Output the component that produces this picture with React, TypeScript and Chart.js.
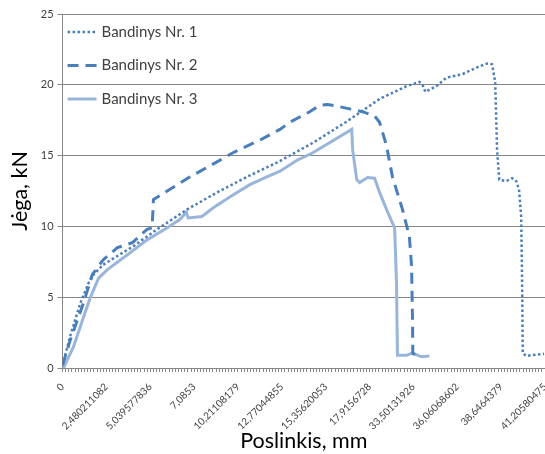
import React, { useEffect, useRef } from "react";
import { Chart, registerables } from "chart.js";

Chart.register(...registerables);

// Category tick labels (Poslinkis, mm), shown every `labelEvery` categories
const xLabels = [
  "0", "2,480211082", "5,039577836", "7,0853", "10,21108179", "12,77044855",
  "15,35620053", "17,9156728", "33,50131926", "36,06068602", "38,6464379", "41,20580475",
];
const labelEvery = 14;
const lastCategory = 154;

const yTicks = [0, 5, 10, 15, 20, 25];

// Series positions are category indices, values are force in kN
const s1Name = "Bandinys Nr. 1";
const s1Pos = [0, 2.5, 5.7, 8.3, 9.9, 13, 22.6, 30.2, 39.8, 49.3, 59.8, 68.4, 79.9, 90.7, 101.2, 109.8, 113.9, 114.9, 115.8, 119.3, 122.5, 127.6, 133, 135.5, 137.1, 138.1, 138.7, 139.4, 141.6, 143.5, 144.8, 145.7, 146.4, 146.7, 146.9, 148, 149.9, 153.7];
const s1Force = [0.2, 2.3, 4.6, 6.0, 6.6, 7.3, 8.6, 9.8, 11.2, 12.4, 13.6, 14.5, 15.9, 17.4, 19.0, 19.9, 20.2, 20.0, 19.5, 19.9, 20.5, 20.75, 21.3, 21.5, 21.45, 20.2, 15.4, 13.3, 13.2, 13.4, 13.2, 12.6, 10.7, 6.0, 1.05, 0.85, 0.92, 1.0];

const s2Name = "Bandinys Nr. 2";
const s2Pos = [0, 2.5, 6.7, 9.5, 13, 17.5, 22.3, 27, 28.6, 29, 33.4, 40.7, 48, 54.4, 63, 69.4, 72.5, 78.9, 82.1, 84.6, 87.5, 91.6, 95.8, 99.6, 101.2, 103.4, 105.3, 108.5, 110.7, 111.4, 111.7, 111.8, 113];
const s2Force = [0.2, 2.0, 4.6, 6.6, 7.65, 8.5, 8.85, 9.8, 9.9, 11.9, 12.5, 13.5, 14.4, 15.2, 16.1, 16.85, 17.35, 18.1, 18.55, 18.6, 18.5, 18.3, 18.1, 17.8, 17.35, 15.7, 13.5, 11.2, 9.3, 7.2, 3.6, 1.05, 0.85];

const s3Name = "Bandinys Nr. 3";
const s3Pos = [0.3, 3.5, 6.7, 8.9, 11.5, 14.3, 20.7, 27, 33.4, 37.5, 39.5, 40.1, 44.5, 48, 53.5, 59.8, 65.2, 69.4, 75.1, 79.9, 92.3, 92.6, 93.9, 94.8, 97.4, 99.6, 101.2, 103.4, 106, 106.6, 106.9, 109.8, 111.7, 114.5, 117.1];
const s3Force = [0, 1.5, 3.6, 5.0, 6.35, 6.95, 8.0, 9.05, 9.9, 10.5, 11.0, 10.6, 10.7, 11.3, 12.1, 12.95, 13.5, 13.9, 14.7, 15.2, 16.85, 15.4, 13.3, 13.1, 13.45, 13.4, 12.4, 11.2, 9.9, 6.0, 0.9, 0.9, 1.05, 0.8, 0.85];

const FONT = "Lato";
const TEXT = "#404040";
const GRID = "#868686";

const toPoints = (pos: number[], vals: number[]) => pos.map((x, i) => ({ x, y: vals[i] }));

const insideLegend = {
  id: "insideLegend",
  afterDraw(chart: any) {
    const ctx = chart.ctx;
    const { left, top } = chart.chartArea;
    chart.data.datasets.forEach((ds: any, i: number) => {
      const y = top + 18 + i * 33.5;
      ctx.save();
      ctx.strokeStyle = ds.borderColor;
      ctx.lineWidth = ds.borderWidth;
      ctx.setLineDash(ds.borderDash || []);
      ctx.beginPath();
      ctx.moveTo(left + 5, y);
      ctx.lineTo(left + 34, y);
      ctx.stroke();
      ctx.setLineDash([]);
      ctx.fillStyle = TEXT;
      ctx.font = `15px ${FONT}`;
      ctx.textBaseline = "middle";
      ctx.fillText(ds.label, left + 39, y);
      ctx.restore();
    });
  },
};

export default function App() {
  const ref = useRef<HTMLCanvasElement>(null);
  useEffect(() => {
    if (!ref.current) return;
    const chart = new Chart(ref.current, {
      type: "line",
      data: {
        datasets: [
          {
            label: s1Name,
            data: toPoints(s1Pos, s1Force),
            borderColor: "#4A7EBB",
            borderWidth: 2.5,
            borderDash: [2.5, 2.5],
            pointRadius: 0,
            tension: 0,
          },
          {
            label: s2Name,
            data: toPoints(s2Pos, s2Force),
            borderColor: "#4A7EBB",
            borderWidth: 3,
            borderDash: [11, 7],
            pointRadius: 0,
            tension: 0,
          },
          {
            label: s3Name,
            data: toPoints(s3Pos, s3Force),
            borderColor: "#9AB5DA",
            borderWidth: 3,
            pointRadius: 0,
            tension: 0,
          },
        ] as any,
      },
      options: {
        animation: false,
        responsive: false,
        maintainAspectRatio: false,
        layout: { padding: { top: 14, left: 7, right: 0, bottom: 0 } },
        plugins: { legend: { display: false }, tooltip: { enabled: false } },
        scales: {
          x: {
            type: "linear",
            min: 0,
            max: lastCategory,
            border: { color: GRID, width: 1 },
            grid: { drawOnChartArea: false, drawTicks: true, tickLength: 4, color: GRID },
            afterFit: (axis: any) => {
              axis.paddingRight = 0;
              axis.height = 86;
            },
            ticks: {
              stepSize: 1,
              autoSkip: false,
              maxTicksLimit: 1000,
              minRotation: 45,
              maxRotation: 45,
              color: TEXT,
              font: { family: FONT, size: 10 },
              padding: 9,
              callback: (v: any) => {
                const n = Math.round(Number(v));
                return n % labelEvery === 0 ? xLabels[n / labelEvery] : "";
              },
            },
            title: {
              display: true,
              text: "Poslinkis, mm",
              color: "#000",
              font: { family: FONT, size: 21.5 },
              padding: { top: 4, bottom: 0 },
            },
          },
          y: {
            min: yTicks[0],
            max: yTicks[yTicks.length - 1],
            border: { color: GRID, width: 1 },
            grid: { color: GRID, tickLength: 5 },
            afterBuildTicks: (axis: any) => {
              axis.ticks = yTicks.map((value) => ({ value }));
            },
            ticks: {
              color: TEXT,
              font: { family: FONT, size: 11 },
              padding: 4,
            },
            title: {
              display: true,
              text: "Jėga, kN",
              color: "#000",
              font: { family: FONT, size: 21.5 },
              padding: { top: 0, bottom: 4 },
            },
          },
        },
      },
      plugins: [insideLegend],
    });
    return () => chart.destroy();
  }, []);
  return (
    <div style={{ position: "absolute", left: 0, top: 0, width: 545, height: 454, background: "#fff" }}>
      <canvas ref={ref} width={545} height={454} style={{ display: "block" }} />
    </div>
  );
}
